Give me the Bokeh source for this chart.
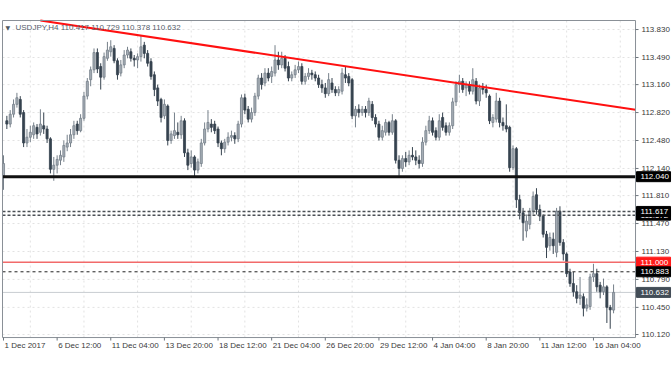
from bokeh.plotting import figure
from bokeh.models import Range1d
from bokeh.core.properties import value
from bokeh.embed import file_html
from bokeh.resources import INLINE

# ---------------- data (USDJPY H4) ----------------
opens = [112.05, 112.72, 112.68, 112.80, 112.92, 112.98, 112.82, 112.45, 112.52, 112.55,
         112.64, 112.58, 112.66, 112.62, 112.50, 112.13, 112.18, 112.24, 112.28, 112.40,
         112.45, 112.55, 112.68, 112.60, 112.75, 113.02, 113.22, 113.34, 113.55, 113.38,
         113.25, 113.48, 113.56, 113.60, 113.45, 113.30, 113.40, 113.52, 113.56, 113.48,
         113.46, 113.50, 113.64, 113.54, 113.44, 113.28, 113.12, 112.98, 112.78, 112.90,
         112.48, 112.54, 112.58, 112.55, 112.72, 112.33, 112.20, 112.28, 112.12, 112.20,
         112.45, 112.62, 112.68, 112.68, 112.62, 112.45, 112.38, 112.46, 112.52, 112.54,
         112.50, 112.68, 113.00, 112.86, 112.74, 112.82, 113.02, 113.24, 113.18, 113.30,
         113.26, 113.30, 113.46, 113.40, 113.48, 113.38, 113.24, 113.28, 113.34, 113.38,
         113.20, 113.26, 113.30, 113.28, 113.24, 113.16, 113.12, 113.05, 113.18, 113.10,
         113.06, 113.08, 113.28, 113.26, 113.22, 112.78, 112.86, 112.82, 112.86, 112.82,
         112.92, 112.76, 112.68, 112.52, 112.58, 112.70, 112.58, 112.72, 112.24, 112.14,
         112.26, 112.22, 112.30, 112.28, 112.24, 112.20, 112.46, 112.60, 112.72, 112.60,
         112.52, 112.76, 112.66, 112.58, 112.66, 112.95, 113.16, 113.20, 113.12, 113.16,
         113.08, 113.20, 112.96, 113.12, 113.10, 113.02, 112.70, 112.74, 112.96, 112.70,
         112.66, 112.64, 112.15, 112.38, 111.76, 111.60, 111.38, 111.46, 111.62, 111.82,
         111.64, 111.56, 111.34, 111.20, 111.28, 111.12, 111.62, 111.24, 111.10, 110.88,
         110.74, 110.64, 110.56, 110.58, 110.44, 110.46, 110.82, 110.86, 110.72, 110.64,
         110.70, 110.45, 110.417]
highs = [112.30, 112.78, 112.85, 112.98, 113.06, 113.02, 112.85, 112.62, 112.66, 112.70,
         112.68, 112.86, 112.82, 112.66, 112.52, 112.28, 112.30, 112.36, 112.48, 112.55,
         112.62, 112.72, 112.72, 112.80, 113.07, 113.24, 113.38, 113.60, 113.60, 113.42,
         113.55, 113.68, 113.70, 113.64, 113.48, 113.46, 113.58, 113.62, 113.60, 113.52,
         113.54, 113.76, 113.68, 113.58, 113.48, 113.32, 113.16, 113.00, 112.98, 112.92,
         112.60, 112.82, 112.70, 112.78, 112.75, 112.38, 112.36, 112.30, 112.26, 112.50,
         112.70, 112.85, 112.74, 112.72, 112.65, 112.48, 112.50, 112.58, 112.60, 112.58,
         112.72, 113.04, 113.05, 112.90, 112.88, 113.06, 113.28, 113.30, 113.36, 113.36,
         113.38, 113.64, 113.56, 113.56, 113.52, 113.44, 113.32, 113.40, 113.44, 113.42,
         113.30, 113.36, 113.34, 113.32, 113.28, 113.22, 113.18, 113.30, 113.24, 113.14,
         113.14, 113.36, 113.38, 113.30, 113.24, 112.90, 112.92, 112.90, 112.90, 113.00,
         112.96, 112.80, 112.72, 112.66, 112.74, 112.72, 112.80, 112.74, 112.30, 112.30,
         112.34, 112.36, 112.40, 112.36, 112.30, 112.52, 112.66, 112.78, 112.76, 112.64,
         112.80, 112.82, 112.70, 112.70, 113.00, 113.20, 113.28, 113.24, 113.20, 113.20,
         113.36, 113.24, 113.16, 113.18, 113.16, 113.04, 112.80, 113.06, 113.00, 112.76,
         112.92, 112.66, 112.42, 112.40, 111.82, 111.66, 111.58, 111.66, 111.86, 111.90,
         111.70, 111.58, 111.38, 111.36, 111.36, 111.66, 111.68, 111.28, 111.12, 110.92,
         110.88, 110.72, 110.82, 110.62, 110.56, 110.86, 110.98, 110.92, 110.76, 110.80,
         110.72, 110.48, 110.729]
lows = [111.88, 112.62, 112.64, 112.76, 112.88, 112.76, 112.40, 112.40, 112.46, 112.50,
        112.50, 112.54, 112.56, 112.45, 112.08, 111.99, 112.08, 112.18, 112.22, 112.35,
        112.40, 112.50, 112.55, 112.58, 112.72, 112.98, 113.14, 113.30, 113.30, 113.10,
        113.22, 113.45, 113.50, 113.42, 113.22, 113.26, 113.36, 113.48, 113.44, 113.38,
        113.36, 113.44, 113.48, 113.38, 113.22, 113.02, 112.90, 112.70, 112.74, 112.42,
        112.44, 112.50, 112.50, 112.50, 112.28, 112.12, 112.15, 112.03, 112.08, 112.16,
        112.42, 112.58, 112.58, 112.56, 112.40, 112.30, 112.33, 112.42, 112.47, 112.44,
        112.46, 112.64, 112.80, 112.70, 112.70, 112.78, 112.98, 113.10, 113.14, 113.20,
        113.18, 113.26, 113.34, 113.36, 113.32, 113.20, 113.20, 113.24, 113.30, 113.16,
        113.16, 113.22, 113.22, 113.20, 113.12, 113.06, 113.00, 113.02, 113.06, 113.02,
        113.02, 113.04, 113.18, 113.14, 112.74, 112.64, 112.76, 112.78, 112.76, 112.78,
        112.72, 112.64, 112.48, 112.48, 112.54, 112.54, 112.55, 112.20, 112.05, 112.10,
        112.16, 112.18, 112.24, 112.18, 112.14, 112.16, 112.42, 112.56, 112.54, 112.48,
        112.48, 112.60, 112.54, 112.54, 112.62, 112.90, 113.06, 113.06, 113.02, 113.04,
        113.04, 112.92, 112.90, 113.04, 113.00, 112.68, 112.64, 112.70, 112.64, 112.60,
        112.58, 112.10, 112.12, 111.66, 111.52, 111.26, 111.30, 111.40, 111.58, 111.58,
        111.50, 111.30, 111.05, 111.14, 111.10, 111.06, 111.20, 111.02, 110.82, 110.70,
        110.58, 110.50, 110.48, 110.34, 110.40, 110.42, 110.76, 110.64, 110.56, 110.60,
        110.26, 110.19, 110.378]
closes = [112.20, 112.68, 112.80, 112.92, 113.00, 112.80, 112.45, 112.52, 112.58, 112.66,
          112.56, 112.68, 112.62, 112.50, 112.13, 112.18, 112.25, 112.30, 112.42, 112.45,
          112.55, 112.66, 112.60, 112.75, 113.02, 113.20, 113.34, 113.55, 113.35, 113.25,
          113.50, 113.58, 113.62, 113.45, 113.28, 113.40, 113.52, 113.58, 113.48, 113.46,
          113.50, 113.62, 113.54, 113.42, 113.26, 113.10, 112.96, 112.76, 112.92, 112.48,
          112.56, 112.60, 112.55, 112.72, 112.33, 112.18, 112.28, 112.12, 112.22, 112.45,
          112.62, 112.70, 112.64, 112.60, 112.45, 112.38, 112.46, 112.52, 112.54, 112.50,
          112.68, 113.00, 112.85, 112.74, 112.82, 113.02, 113.24, 113.16, 113.30, 113.24,
          113.32, 113.46, 113.40, 113.48, 113.36, 113.24, 113.28, 113.34, 113.38, 113.20,
          113.26, 113.30, 113.28, 113.24, 113.16, 113.12, 113.05, 113.22, 113.10, 113.06,
          113.10, 113.30, 113.24, 113.18, 112.78, 112.86, 112.82, 112.86, 112.82, 112.96,
          112.76, 112.68, 112.52, 112.60, 112.70, 112.58, 112.72, 112.24, 112.14, 112.26,
          112.22, 112.30, 112.28, 112.24, 112.20, 112.46, 112.60, 112.72, 112.58, 112.52,
          112.72, 112.64, 112.58, 112.66, 112.95, 113.16, 113.20, 113.10, 113.16, 113.08,
          113.22, 112.96, 113.12, 113.10, 113.06, 112.72, 112.76, 112.96, 112.70, 112.66,
          112.62, 112.15, 112.38, 111.76, 111.60, 111.48, 111.50, 111.62, 111.80, 111.64,
          111.56, 111.34, 111.18, 111.30, 111.20, 111.62, 111.24, 111.10, 110.86, 110.74,
          110.64, 110.56, 110.60, 110.44, 110.48, 110.82, 110.86, 110.70, 110.64, 110.70,
          110.45, 110.42, 110.632]

time_tick_idx = [0, 16, 32, 48, 64, 80, 96, 112, 128, 144, 160, 176]
time_labels = ["1 Dec 2017", "6 Dec 12:00", "11 Dec 04:00", "13 Dec 20:00", "18 Dec 12:00",
               "21 Dec 04:00", "26 Dec 20:00", "29 Dec 12:00", "4 Jan 04:00", "8 Jan 20:00",
               "11 Jan 12:00", "16 Jan 04:00"]
vgrid_idx = [8, 24, 40, 56, 72, 88, 104, 120, 136, 152, 168, 184]
price_ticks = [113.830, 113.490, 113.160, 112.820, 112.480, 112.140, 111.810,
               111.470, 111.130, 110.790, 110.450, 110.120]

support_level = 112.040
dotted_levels = [111.617, 111.572]
red_level = 111.000
dotted_level_2 = 110.883
bid_level = 110.632

trend_x = [11.0, 188.55]
trend_y = [113.94, 112.853]

header = "USDJPY,H4 110.417 110.729 110.378 110.632"

# ---------------- layout (chart area in data units, pixel scale) ----------------
W, H = 672, 372
PXX, PXY = 3.352, 82.2            # pixels per bar, pixels per 1.0 of price
CX0, CX1 = -0.3, 188.55           # chart area, bars
CY0, CY1 = 110.083, 113.94        # chart area, price
XL = CX0 - 2 / PXX
YT = CY1 + 20 / PXY

def dx(px):
    return px / PXX

def dy(px):
    return px / PXY

FONT = value("Liberation Sans")
TXT = "#3a3a3a"
BORDER = "#8a9097"
GRID = "#e2e2e2"

p = figure(width=W, height=H, x_range=Range1d(XL, XL + W / PXX), y_range=Range1d(YT - H / PXY, YT),
           output_backend="svg", toolbar_location=None,
           x_axis_location=None, y_axis_location=None,
           min_border=0, min_border_left=0, min_border_right=0, min_border_top=0, min_border_bottom=0)
p.grid.visible = False
p.outline_line_color = None
p.background_fill_color = "white"
p.border_fill_color = "white"

# grid
p.segment(x0=CX0, x1=CX1, y0=price_ticks, y1=price_ticks, line_color=GRID, line_dash="2 3", line_width=1)
p.segment(x0=vgrid_idx, x1=vgrid_idx, y0=CY0, y1=CY1, line_color=GRID, line_dash="2 3", line_width=1)

# bid line
p.segment(x0=[CX0], x1=[CX1], y0=[bid_level], y1=[bid_level], line_color="#c9cdd1", line_width=1)

# candles
idx = list(range(len(opens)))
BULL_FILL, BULL_LINE, BEAR = "#a5adb5", "#76808a", "#36434f"
bull = [c >= o for o, c in zip(opens, closes)]
src = dict(
    x=idx, h=highs, l=lows,
    top=[max(o, c) for o, c in zip(opens, closes)],
    bottom=[min(o, c) for o, c in zip(opens, closes)],
    fill=[BULL_FILL if b else BEAR for b in bull],
    line=[BULL_LINE if b else BEAR for b in bull],
)
p.segment(x0="x", y0="h", x1="x", y1="l", line_color="line", line_width=1, source=src)
p.vbar(x="x", width=0.62, top="top", bottom="bottom", fill_color="fill",
       line_color="line", line_width=0.8, source=src)

# horizontal levels
p.segment(x0=[CX0], x1=[CX1], y0=[support_level], y1=[support_level], line_color="#111111", line_width=3)
p.segment(x0=[CX0] * 2, x1=[CX1] * 2, y0=dotted_levels, y1=dotted_levels,
          line_color="#4a4f55", line_width=1.5, line_dash="3 2")
p.segment(x0=[CX0], x1=[CX1], y0=[red_level], y1=[red_level], line_color="#f26a6a", line_width=1.5)
p.segment(x0=[CX0], x1=[CX1], y0=[dotted_level_2], y1=[dotted_level_2],
          line_color="#222222", line_width=1, line_dash="3 3")

# trend line
p.line(trend_x, trend_y, line_color="#ff1010", line_width=2)

# chart border
p.quad(left=[CX0], right=[CX1], bottom=[CY0], top=[CY1], fill_color=None,
       line_color=BORDER, line_width=1)

# right price axis: ticks + labels
p.segment(x0=CX1, x1=CX1 + dx(3), y0=price_ticks, y1=price_ticks, line_color="#6d757d", line_width=1)
p.text(x=CX1 + dx(6), y=price_ticks, text=["%.3f" % v for v in price_ticks],
       text_font=FONT, text_font_size="8px", text_color=TXT,
       text_baseline="middle", text_align="left")

# time axis: ticks + labels
p.segment(x0=time_tick_idx, x1=time_tick_idx, y0=CY0, y1=CY0 - dy(3), line_color="#6d757d", line_width=1)
p.text(x=[t + dx(1) for t in time_tick_idx], y=CY0 - dy(8), text=time_labels,
       text_font=FONT, text_font_size="8px", text_color=TXT,
       text_baseline="middle", text_align="left")

# price boxes on the right axis
box_levels = [dotted_levels[1], dotted_levels[0], support_level, red_level, dotted_level_2, bid_level]
box_colors = ["#000000", "#000000", "#000000", "#ff1a1a", "#000000", "#434d57"]
for lv, bg in zip(box_levels, box_colors):
    p.quad(left=[CX1 + dx(1)], right=[CX1 + dx(35)], bottom=[lv - dy(5)], top=[lv + dy(5)],
           fill_color=bg, line_color=bg)
    p.text(x=[CX1 + dx(5)], y=[lv], text=["%.3f" % lv], text_font=FONT, text_font_size="8px",
           text_color="white", text_baseline="middle", text_align="left")

# header
p.text(x=[CX0 + dx(3)], y=[CY1 - dy(6.5)], text=["\u25bc"], text_font=value("DejaVu Sans"),
       text_font_size="6px", text_color="#4f5863", text_baseline="middle", text_align="left")
p.text(x=[CX0 + dx(13)], y=[CY1 - dy(7)], text=[header], text_font=FONT, text_font_size="8px",
       text_color="#56606b", text_baseline="middle", text_align="left")

open("out.html", "w").write(file_html(p, INLINE))
